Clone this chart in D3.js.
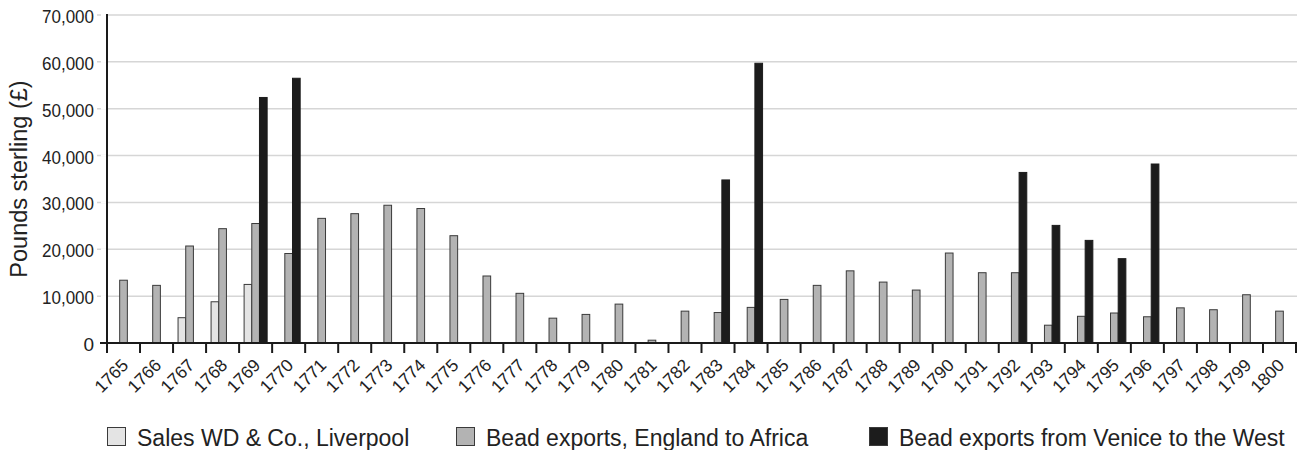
<!DOCTYPE html>
<html><head><meta charset="utf-8">
<script src="https://cdn.jsdelivr.net/npm/d3@7"></script>
<style>
body{margin:0;background:#fff;}
text{font-family:"Liberation Sans",Arial,Helvetica,sans-serif;fill:#222;}
</style></head>
<body><svg id="chart" width="1301" height="450"></svg>
<script>
const years = d3.range(1765, 1801);
const seriesNames = ["Sales WD & Co., Liverpool","Bead exports, England to Africa","Bead exports from Venice to the West"];
const salesWD = [null,null,5400,8800,12500,null,null,null,null,null,null,null,null,null,null,null,null,null,null,null,null,null,null,null,null,null,null,null,null,null,null,null,null,null,null,null];
const englandAfrica = [13400,12300,20700,24400,25500,19100,26600,27600,29400,28700,22900,14300,10600,5300,6100,8300,600,6800,6500,7600,9300,12300,15400,13000,11300,19200,15000,15000,3800,5700,6400,5600,7500,7100,10300,6800];
const veniceWest = [null,null,null,null,52400,56500,null,null,null,null,null,null,null,null,null,null,null,null,34800,59700,null,null,null,null,null,null,null,36400,25100,21900,18000,38200,null,null,null,null];
const yTicks = [0,10000,20000,30000,40000,50000,60000,70000];
const colors = ["#e4e4e4","#b3b3b3","#1c1c1c"];

const svg = d3.select("#chart");
const L = 107, R = 1296, T = 15, B = 343;
const y = d3.scaleLinear().domain([0,70000]).range([B,T]);
const x0 = d3.scaleBand().domain(years).range([L,R]).paddingInner(0.3).paddingOuter(0.15);
const x1 = d3.scaleBand().domain([0,1,2]).range([0,x0.bandwidth()]).paddingOuter(0.005);
const edge = d3.scaleLinear().domain([0,years.length]).range([L,R]);

// gridlines
svg.append("g").selectAll("line").data(yTicks.filter(d=>d>0)).join("line")
  .attr("x1",L-10).attr("x2",R+1).attr("y1",d=>y(d)).attr("y2",d=>y(d))
  .attr("stroke","#d6d6d6").attr("stroke-width",1.5);
svg.append("g").selectAll("line").data(yTicks.filter(d=>d>0)).join("line")
  .attr("x1",L-6).attr("x2",L-1).attr("y1",d=>y(d)).attr("y2",d=>y(d))
  .attr("stroke","#fff").attr("stroke-width",2);

// y tick labels
const fmt = d3.format(",");
svg.append("g").selectAll("text").data(yTicks).join("text")
  .attr("x",94).attr("y",d=>y(d)+8).attr("text-anchor","end")
  .style("font-size","19px").attr("textLength",d=>d===0?null:52).attr("lengthAdjust","spacingAndGlyphs")
  .text(d=>fmt(d));

// y title
svg.append("text").attr("transform","translate(27,179) rotate(-90)")
  .attr("text-anchor","middle").style("font-size","23.5px").text("Pounds sterling (£)");

// bars
const data = [salesWD, englandAfrica, veniceWest];
data.forEach((arr,si)=>{
  svg.append("g").selectAll("rect").data(years.map((yr,i)=>({yr,v:arr[i]})).filter(d=>d.v!=null)).join("rect")
    .attr("x",d=>x0(d.yr)+x1(si)).attr("width",x1.bandwidth())
    .attr("y",d=>y(d.v)).attr("height",d=>B-y(d.v))
    .attr("fill",colors[si]).attr("stroke",si===2?"#1c1c1c":"#3a3a3a").attr("stroke-width",1);
});

// axes
svg.append("line").attr("x1",L).attr("x2",L).attr("y1",T-1).attr("y2",B+1).attr("stroke","#1a1a1a").attr("stroke-width",2);
svg.append("line").attr("x1",L-7).attr("x2",R+1).attr("y1",B).attr("y2",B).attr("stroke","#1a1a1a").attr("stroke-width",2);
svg.append("g").selectAll("line").data(d3.range(years.length+1)).join("line")
  .attr("x1",d=>edge(d)).attr("x2",d=>edge(d)).attr("y1",B).attr("y2",B+10)
  .attr("stroke","#1a1a1a").attr("stroke-width",2);

// x tick labels
svg.append("g").selectAll("text").data(years).join("text")
  .attr("transform",d=>`translate(${x0(d)+x0.bandwidth()/2+1.5},${B+19}) rotate(-45)`)
  .attr("text-anchor","end").attr("dy","0.35em").style("font-size","17.5px")
  .text(d=>d);

// legend
const legX = [107,456,869];
seriesNames.forEach((n,i)=>{
  svg.append("rect").attr("x",legX[i]+0.5).attr("y",427.5).attr("width",18).attr("height",18)
    .attr("fill",colors[i]).attr("stroke","#3a3a3a").attr("stroke-width",1);
  svg.append("text").attr("x",legX[i]+30).attr("y",445.5).style("font-size","23px").text(n);
});
</script></body></html>
